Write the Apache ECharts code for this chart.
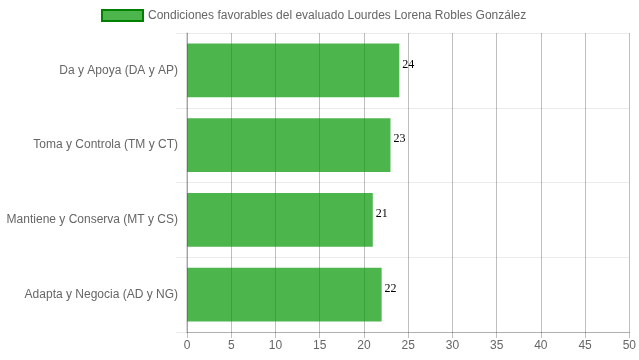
<!DOCTYPE html>
<html><head><meta charset="utf-8">
<script src="https://cdn.jsdelivr.net/npm/echarts@6/dist/echarts.min.js"></script>
<style>html,body{margin:0;padding:0;background:#fff}#c{width:639px;height:360px}</style>
</head><body><div id="c"></div>
<script>
const categories = ["Da y Apoya (DA y AP)", "Toma y Controla (TM y CT)", "Mantiene y Conserva (MT y CS)", "Adapta y Negocia (AD y NG)"];
const values = [24, 23, 21, 22];
const seriesName = "Condiciones favorables del evaluado Lourdes Lorena Robles González";
const chart = echarts.init(document.getElementById('c'));
chart.setOption({
  animation: false,
  legend: {
    top: 4, left: 96,
    icon: 'rect',
    itemWidth: 41, itemHeight: 11, itemGap: 6,
    textStyle: {color: '#666', fontSize: 12, fontFamily: 'Liberation Sans, Arial'},
    data: [{name: seriesName, itemStyle: {color: 'rgba(0,150,0,0.7)', borderColor: '#008000', borderWidth: 2}}]
  },
  grid: {left: 187, right: 9, top: 33, bottom: 28},
  xAxis: {
    type: 'value', min: 0, max: 50, interval: 5,
    axisLine: {show: true, lineStyle: {color: 'rgba(0,0,0,0.25)'}},
    axisTick: {show: true, length: 6, lineStyle: {color: 'rgba(0,0,0,0.25)'}},
    splitLine: {show: true, lineStyle: {color: 'rgba(0,0,0,0.25)'}},
    axisLabel: {color: '#666', fontSize: 12, fontFamily: 'Liberation Sans, Arial', margin: 8}
  },
  yAxis: {
    type: 'category', data: categories, inverse: true,
    axisLine: {show: true, lineStyle: {color: 'rgba(0,0,0,0.2)', width: 1.5}},
    axisTick: {show: true, length: 11, lineStyle: {color: 'rgba(0,0,0,0.08)'}},
    splitLine: {show: true, lineStyle: {color: 'rgba(0,0,0,0.08)'}},
    axisLabel: {color: '#666', fontSize: 12, fontFamily: 'Liberation Sans, Arial', margin: 9}
  },
  series: [{
    name: seriesName, type: 'bar', data: values, barCategoryGap: '28%',
    itemStyle: {color: 'rgba(0,150,0,0.7)'},
    label: {show: true, position: 'right', distance: 3, offset: [0, -6], color: '#000', fontSize: 12, fontFamily: 'Liberation Serif, Times New Roman, serif'}
  }]
});
</script></body></html>
